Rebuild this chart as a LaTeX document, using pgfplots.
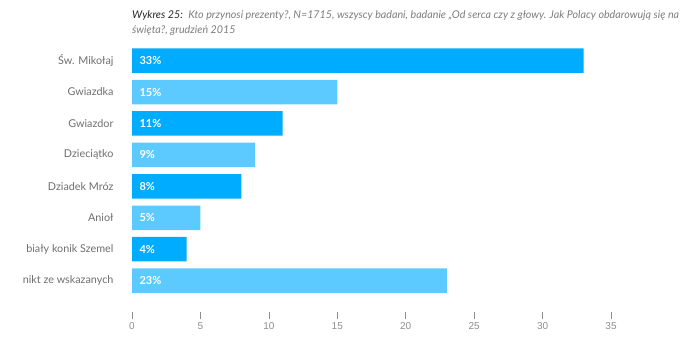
\documentclass[border=0pt]{standalone}
\usepackage{pgfplots}
\pgfplotsset{compat=1.18}
\usepackage{fontspec}
\setmainfont{Lato}
\newfontfamily\tickfont{Liberation Sans}
\definecolor{darkbar}{RGB}{0,172,255}
\definecolor{lightbar}{RGB}{92,201,255}
\definecolor{labgray}{RGB}{110,110,110}
\definecolor{titgray}{RGB}{125,125,125}
\definecolor{tickgray}{RGB}{140,140,140}
\begin{document}
\begin{tikzpicture}
\path[use as bounding box] (0,0) rectangle (700pt,-344pt);
\node[anchor=north west, align=left, inner sep=0pt, font=\itshape\fontsize{10.7}{15}\selectfont, text=titgray] at (132pt,-10pt)
 {{\color{black!85}Wykres 25:}\enspace Kto przynosi prezenty?, N=1715, wszyscy badani, badanie „Od serca czy z głowy. Jak Polacy obdarowują się na\\święta?, grudzień 2015};
\begin{axis}[
  at={(132pt,-312.1pt)}, anchor=south west,
  scale only axis, width=479pt, height=267.2pt,
  xmin=0, xmax=35, ymin=-0.5, ymax=8, y dir=reverse,
  clip=false,
  axis line style={draw=none},
  ytick={0,...,7},
  yticklabels={Św. Mikołaj, Gwiazdka, Gwiazdor, Dzieciątko, Dziadek Mróz, Anioł, biały konik Szemel, nikt ze wskazanych},
  ytick style={draw=none},
  yticklabel style={font=\fontsize{10.8}{12}\selectfont, text=labgray, xshift=-8pt},
  xtick={0,5,...,35},
  xtick pos=lower, ytick pos=left,
  tick align=outside,
  major tick length=7pt,
  xtick style={tickgray, line width=0.6pt},
  xticklabel style={font=\tickfont\fontsize{10}{12}\selectfont, text=tickgray},
  /pgf/number format/assume math mode=true,
]
\addplot[xbar, bar width=24.5pt, fill=darkbar, draw=none] coordinates {(33,0) (11,2) (8,4) (4,6)};
\addplot[xbar, bar width=24.5pt, fill=lightbar, draw=none] coordinates {(15,1) (9,3) (5,5) (23,7)};
\addplot[draw=none, mark=none, nodes near coords, point meta=explicit symbolic,
  nodes near coords style={anchor=west, xshift=4pt, text=white, font=\bfseries\fontsize{11}{12}\selectfont}]
  coordinates {(0,0) [33\%] (0,1) [15\%] (0,2) [11\%] (0,3) [9\%] (0,4) [8\%] (0,5) [5\%] (0,6) [4\%] (0,7) [23\%]};
\end{axis}
\end{tikzpicture}
\end{document}
